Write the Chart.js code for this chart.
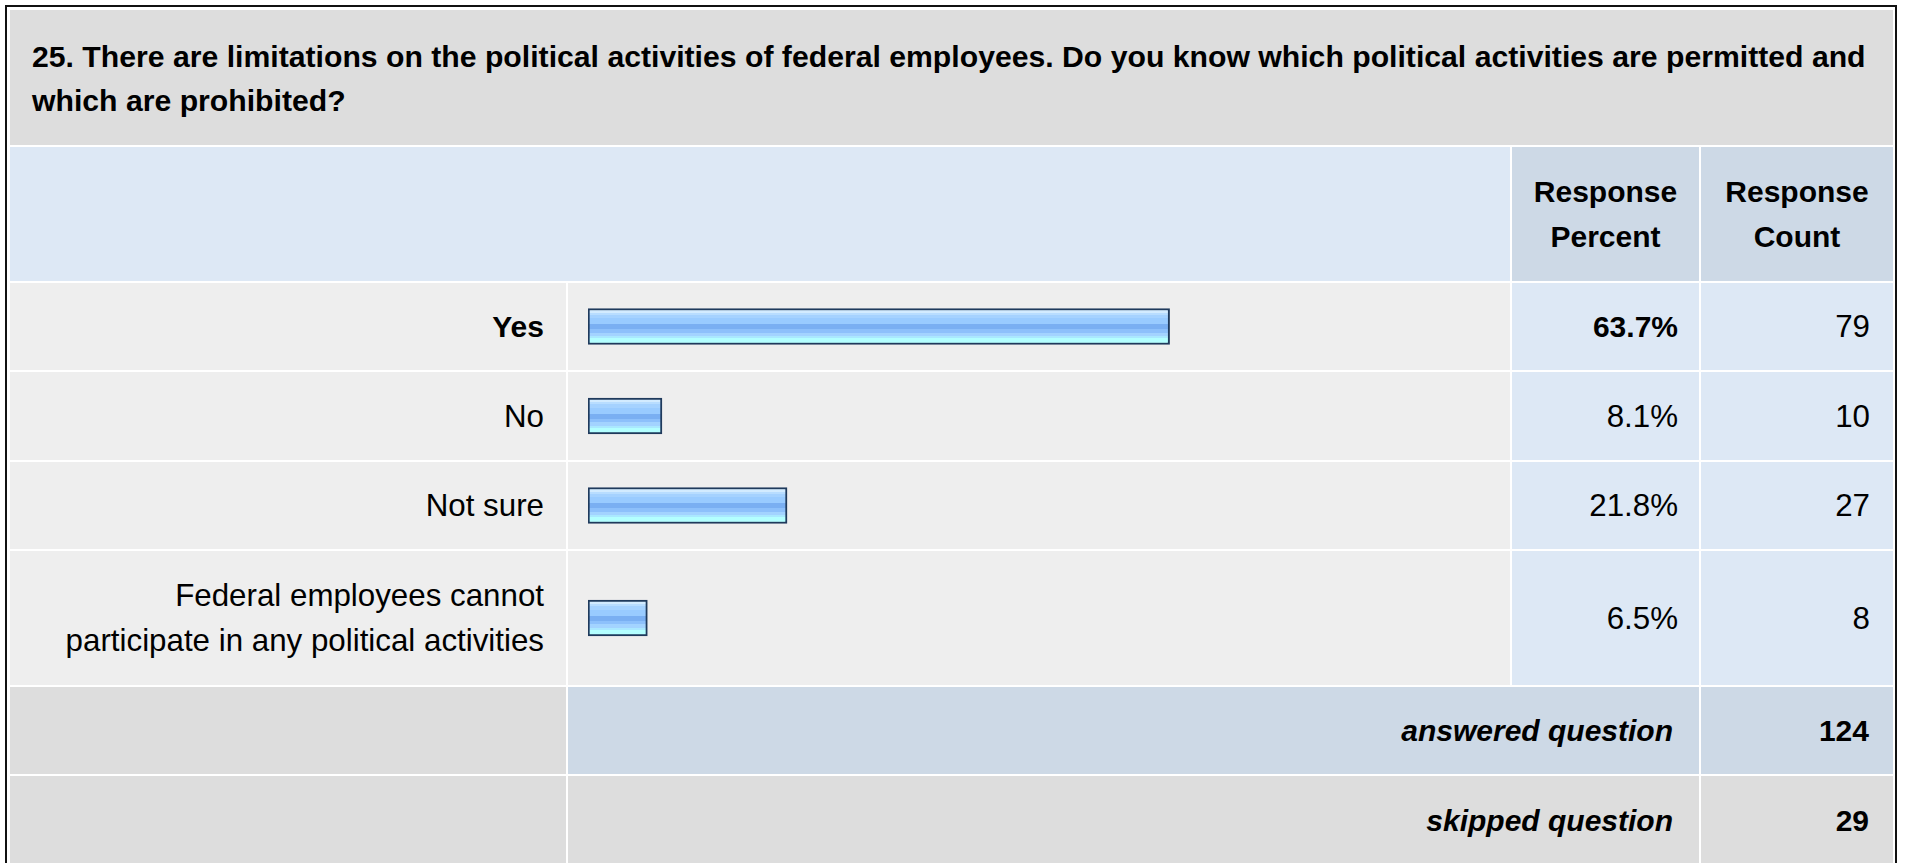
<!DOCTYPE html>
<html>
<head>
<meta charset="utf-8">
<script src="https://cdn.jsdelivr.net/npm/chart.js@4.4.1/dist/chart.umd.min.js"></script>
<style>
  html, body { margin: 0; padding: 0; background: #fff; overflow: hidden; }
  body { width: 1907px; height: 863px; font-family: "Liberation Sans", Arial, sans-serif; color: #000; }
  .frame { position: absolute; left: 5px; top: 5px; width: 1883px; height: 900px;
           border: 2px solid #111; padding: 3px 2px 0 3px; background: #fff; }
  .grid { display: grid; grid-template-columns: 556px 942px 187px 192px;
          grid-template-rows: 135px 134px 87px 88px 87px 134px 87px 88px; gap: 2px; }
  .cell { display: flex; align-items: center; box-sizing: border-box; font-size: 31.3px; line-height: 45px; }
  .title { grid-column: 1 / 5; background: #dddddd; font-weight: bold; font-size: 30.2px;
           line-height: 44px; padding: 2px 20px 0 22px; }
  .head-blank { grid-column: 1 / 3; background: #dde8f5; }
  .head { background: #cdd9e6; font-weight: bold; font-size: 30px; justify-content: center; text-align: center; }
  .label { background: #eeeeee; justify-content: flex-end; text-align: right; padding-right: 22px; }
  .label span { max-width: 490px; }
  .bar { background: #eeeeee; position: relative; }
  .bar .wrap { position: absolute; left: 0; top: 0; right: 0; bottom: 0; }
  .pct { background: #dde8f5; justify-content: flex-end; padding-right: 21px; }
  .cnt { background: #dde8f5; justify-content: flex-end; padding-right: 23px; }
  .strong { font-weight: bold; font-size: 30px; }
  .sum-label { background: #dddddd; }
  .sum-text { grid-column: 2 / 4; justify-content: flex-end; padding-right: 26px;
              font-weight: bold; font-style: italic; font-size: 30px; }
  .sum-count { justify-content: flex-end; padding-right: 24px; font-weight: bold; font-size: 30px; }
  .answered { background: #cdd9e6; }
  .skipped { background: #dddddd; }
</style>
</head>
<body>
<div class="frame"><div class="grid" id="grid"></div></div>
<script>
// survey data
const questionTitle = '25. There are limitations on the political activities of federal employees. Do you know which political activities are permitted and which are prohibited?';
const answerChoices = ['Yes', 'No', 'Not sure', 'Federal employees cannot participate in any political activities'];
const responsePercent = [63.7, 8.1, 21.8, 6.5];
const responseCount = [79, 10, 27, 8];
const headerLabels = ['Response Percent', 'Response Count'];
const summaryLabels = ['answered question', 'skipped question'];
const summaryCounts = [124, 29];

// bar stripes, top to bottom
const stripes = [
  [0.00, 0.07, '#d2ebff'],
  [0.07, 0.14, '#b8ddff'],
  [0.14, 0.25, '#a5d2ff'],
  [0.25, 0.43, '#99cbff'],
  [0.43, 0.58, '#7aaff2'],
  [0.58, 0.70, '#8dc0fb'],
  [0.70, 0.80, '#a3d3ff'],
  [0.80, 0.87, '#aae8ff'],
  [0.87, 1.00, '#b3ffff']
];

const grid = document.getElementById('grid');

function cell(cls, html) {
  const d = document.createElement('div');
  d.className = 'cell ' + cls;
  if (html !== undefined) d.innerHTML = html;
  grid.appendChild(d);
  return d;
}

cell('title', '<span>' + questionTitle + '</span>');
cell('head-blank');
headerLabels.forEach(h => cell('head', h.replace(' ', '<br>')));

const maxPercent = Math.max(...responsePercent);
const barCells = [];
answerChoices.forEach((choice, i) => {
  const strong = responsePercent[i] === maxPercent ? ' strong' : '';
  cell('label' + strong, '<span>' + choice + '</span>');
  const b = cell('bar');
  b.innerHTML = '<div class="wrap"><canvas></canvas></div>';
  barCells.push(b);
  cell('pct' + strong, responsePercent[i].toFixed(1) + '%');
  cell('cnt', String(responseCount[i]));
});

cell('sum-label', '');
cell('sum-text answered', summaryLabels[0]);
cell('sum-count answered', String(summaryCounts[0]));
cell('sum-label', '');
cell('sum-text skipped', summaryLabels[1]);
cell('sum-count skipped', String(summaryCounts[1]));

function barFill(ctx) {
  const area = ctx.chart.chartArea;
  if (!area) return '#99cbff';
  const mid = (area.top + area.bottom) / 2;
  const g = ctx.chart.ctx.createLinearGradient(0, mid - 16, 0, mid + 16);
  stripes.forEach(s => { g.addColorStop(s[0], s[2]); g.addColorStop(s[1], s[2]); });
  return g;
}

barCells.forEach((b, i) => {
  new Chart(b.querySelector('canvas'), {
    type: 'bar',
    data: {
      labels: [answerChoices[i]],
      datasets: [{
        data: [responsePercent[i]],
        backgroundColor: barFill,
        borderColor: '#1f3a5c',
        borderWidth: 2,
        borderSkipped: false,
        barThickness: 36
      }]
    },
    options: {
      indexAxis: 'y',
      responsive: true,
      maintainAspectRatio: false,
      animation: false,
      layout: { padding: { left: 20, right: 9, top: 0, bottom: 0 } },
      scales: {
        x: { min: 0, max: 100, display: false },
        y: { display: false }
      },
      plugins: { legend: { display: false }, tooltip: { enabled: false } }
    }
  });
});
</script>
</body>
</html>
